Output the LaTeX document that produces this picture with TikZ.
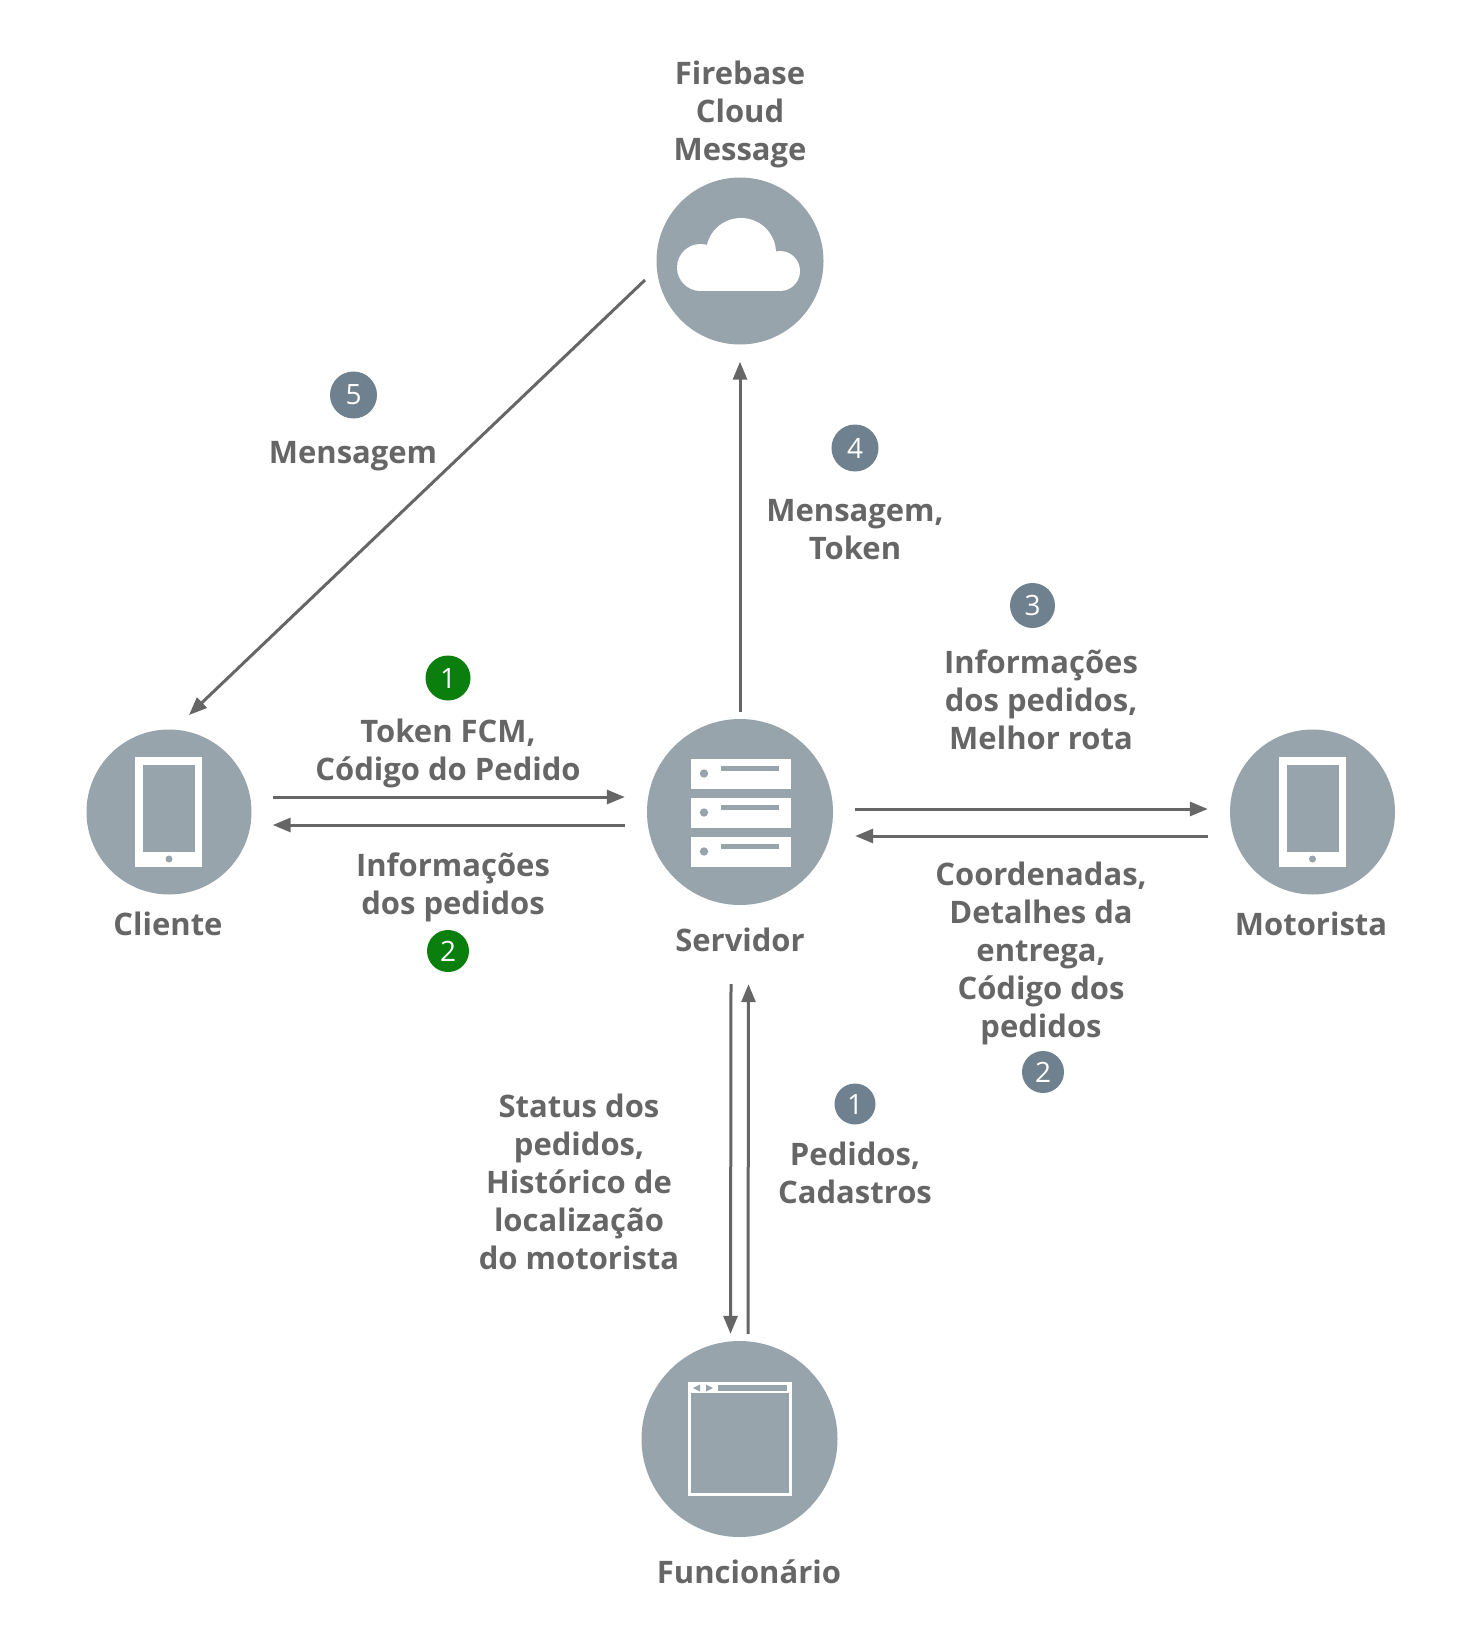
\documentclass[tikz,border=0pt]{standalone}
\usepackage{fontspec}
\setmainfont{Open Sans}
\usetikzlibrary{arrows.meta,calc}
\definecolor{disc}{HTML}{98A4AC}
\definecolor{ink}{HTML}{666666}
\definecolor{badgegrey}{HTML}{6F818E}
\definecolor{badgegreen}{HTML}{0A7F0E}
\tikzset{
  actor/.style={circle,fill=disc,draw=none,inner sep=0pt},
  lbl/.style={text=ink,align=center,inner sep=0pt,font=\fontsize{31}{38}\selectfont\bfseries},
  badge/.style={circle,inner sep=0pt,minimum size=43pt,text=white,font=\fontsize{28}{30}\selectfont},
  greybadge/.style={badge,fill=badgegrey},
  greenbadge/.style={badge,fill=badgegreen},
  flow/.style={draw=ink,line width=3pt,-{Triangle[length=18pt,width=14pt]}},
  iconw/.style={fill=white,draw=none},
  icong/.style={fill=disc,draw=none}
}
\newcommand{\phoneicon}[1]{%
  \begin{scope}[shift={(#1)}]
    \fill[iconw] (-34,-55) rectangle (33,55);
    \fill[icong] (-26,-47) rectangle (26,40);
    \fill[icong] (0,47) circle (3.5);
  \end{scope}}
\begin{document}
\begin{tikzpicture}[x=1pt,y=-1pt]
\useasboundingbox (0,0) rectangle (1459,1645);
\fill[white] (0,0) rectangle (1459,1645);
% actors
\node[actor,minimum size=167pt] (cloud) at (740,261) {};
\node[actor,minimum size=186pt] (server) at (740,812) {};
\node[actor,minimum size=165pt] (cliente) at (169,812) {};
\node[actor,minimum size=165pt] (motorista) at (1312.5,812) {};
\node[actor,minimum size=196pt] (func) at (739.5,1439) {};
% cloud icon
\fill[iconw] (700.5,267.5) circle (23.5);
\fill[iconw] (780,271) circle (20);
\fill[iconw] (741,253) circle (35);
\fill[iconw] (700.5,260) rectangle (780,291);
% server icon
\foreach \yy in {759,798,837}{
  \fill[iconw] (691,\yy) rectangle (791,\yy+29.5);
  \fill[icong] (704,\yy+14.5) circle (4.2);
  \fill[icong] (721,\yy+7) rectangle (779,\yy+12);
}
% phones
\phoneicon{169,812}
\phoneicon{1312.5,812}
% window icon
\fill[iconw] (688,1382) rectangle (792,1496);
\fill[icong] (691,1393) rectangle (789,1493);
\fill[icong] (718,1385) rectangle (787,1390.5);
\fill[icong] (693,1388) -- (700,1384.5) -- (700,1391.5) -- cycle;
\fill[icong] (713,1388) -- (706,1384.5) -- (706,1391.5) -- cycle;
% labels of actors
\node[lbl] (tcloud) at (740,114) {Firebase\\Cloud\\Message};
\node[lbl] (tcliente) at (168,924) {Cliente};
\node[lbl] (tserver) at (740,940) {Servidor};
\node[lbl] (tmot) at (1311,924) {Motorista};
\node[lbl] (tfunc) at (749,1572) {Funcionário};
% flow labels
\node[lbl] (t5) at (353,456) {Mensagem};
\node[lbl] (t4) at (855,530) {Mensagem,\\Token};
\node[lbl] (t3) at (1041,700) {Informações\\dos pedidos,\\Melhor rota};
\node[lbl] (t1g) at (448,753) {Token FCM,\\Código do Pedido};
\node[lbl] (t2g) at (453,887) {Informações\\dos pedidos};
\node[lbl] (t2) at (1041,953) {Coordenadas,\\Detalhes da\\entrega,\\Código dos\\pedidos};
\node[lbl] (tst) at (579,1182) {Status dos\\pedidos,\\Histórico de\\localização\\do motorista};
\node[lbl] (t1) at (855,1173) {Pedidos,\\Cadastros};
% badges
\node[greybadge,minimum size=47pt] (b5) at (353.5,395) {5};
\node[greybadge,minimum size=47pt] (b4) at (855,448) {4};
\node[greybadge,minimum size=45pt] (b3) at (1032.5,605.5) {3};
\node[greenbadge,minimum size=45pt] (g1) at (448,678) {1};
\node[greenbadge,minimum size=42pt] (g2) at (448,951) {2};
\node[greybadge,minimum size=42pt] (b2) at (1043,1072) {2};
\node[greybadge,minimum size=41pt] (b1) at (855,1104) {1};
% connectors
\draw[flow] ([shift={(-95,19)}]cloud.center) -- ([shift={(20,-97)}]cliente.center);
\draw[flow] ([yshift=7pt]server.north) -- ([yshift=-17pt]cloud.south);
\draw[flow] ([shift={(21,-15)}]cliente.east) -- ([shift={(-22,-15)}]server.west);
\draw[flow] ([shift={(-22,13)}]server.west) -- ([shift={(21,13)}]cliente.east);
\draw[flow] ([shift={(22,-3)}]server.east) -- ([shift={(-22,-3)}]motorista.west);
\draw[flow] ([shift={(-22,24)}]motorista.west) -- ([shift={(22,24)}]server.east);
\draw[flow] ([shift={(-9,79)}]server.south) -- ([shift={(-9,-7)}]func.north);
\draw[flow] ([shift={(8.5,-7)}]func.north) -- ([shift={(8.5,79)}]server.south);
\end{tikzpicture}
\end{document}
